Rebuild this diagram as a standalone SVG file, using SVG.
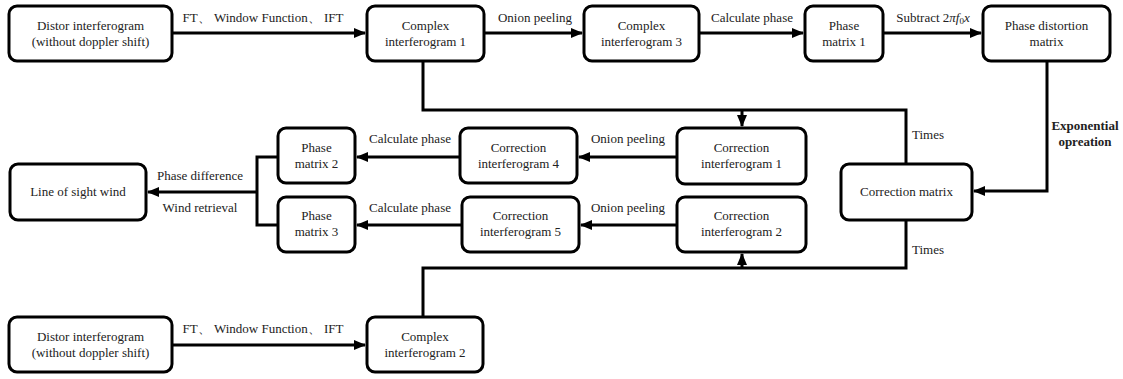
<svg xmlns="http://www.w3.org/2000/svg" width="1123" height="379" viewBox="0 0 1123 379" font-family="'Liberation Serif', 'DejaVu Serif', 'Times New Roman', serif">
<style>
.box{fill:#fff;stroke:#000;stroke-width:3}
.t{font-family:'Liberation Serif','DejaVu Serif',serif;font-size:13px;fill:#222;text-anchor:middle}
.b{font-weight:bold}
.c{fill:none;stroke:#000;stroke-width:3}
</style>
<defs>
<marker id="ah" markerUnits="userSpaceOnUse" markerWidth="12" markerHeight="10" refX="11" refY="5" orient="auto">
<path d="M0,0 L12,5 L0,10 Z" fill="#000"/>
</marker>
</defs>
<rect width="1123" height="379" fill="#fff"/>
<g id="connectors">
<path class="c" d="M172,33 H365" marker-end="url(#ah)"/>
<path class="c" d="M484,33 H582" marker-end="url(#ah)"/>
<path class="c" d="M699,33 H803" marker-end="url(#ah)"/>
<path class="c" d="M883,33 H981" marker-end="url(#ah)"/>
<path class="c" d="M1047,61 V191 H974" marker-end="url(#ah)"/>
<path class="c" d="M423,61 V110 H906 V164"/>
<path class="c" d="M742,110 V126" marker-end="url(#ah)"/>
<path class="c" d="M906,220 V268 H423 V317"/>
<path class="c" d="M742,268 V254" marker-end="url(#ah)"/>
<path class="c" d="M677,157 H579" marker-end="url(#ah)"/>
<path class="c" d="M677,225 H581" marker-end="url(#ah)"/>
<path class="c" d="M460,157 H357" marker-end="url(#ah)"/>
<path class="c" d="M462,225 H357" marker-end="url(#ah)"/>
<path class="c" d="M278,157 H257 V225 H278"/>
<path class="c" d="M257,192 H148" marker-end="url(#ah)"/>
<path class="c" d="M172,345 H365" marker-end="url(#ah)"/>
<text class="t" x="263" y="22">FT、 Window Function、 IFT</text>
<text class="t" x="535" y="22">Onion peeling</text>
<text class="t" x="752" y="22">Calculate phase</text>
<text class="t" x="933" y="22">Subtract 2<tspan font-style="italic">πf</tspan><tspan font-size="9" dy="2">0</tspan><tspan font-style="italic" dy="-2">x</tspan></text>
<text class="t b" x="1085" y="130">Exponential</text>
<text class="t b" x="1085" y="146">opreation</text>
<text class="t" x="912" y="139" style="text-anchor:start">Times</text>
<text class="t" x="912" y="254" style="text-anchor:start">Times</text>
<text class="t" x="628" y="143">Onion peeling</text>
<text class="t" x="628" y="212">Onion peeling</text>
<text class="t" x="410" y="143">Calculate phase</text>
<text class="t" x="410" y="212">Calculate phase</text>
<text class="t" x="200" y="180">Phase difference</text>
<text class="t" x="200" y="212">Wind retrieval</text>
<text class="t" x="263" y="333">FT、 Window Function、 IFT</text>
</g>
<g id="n1"><rect class="box" x="9" y="6" width="163" height="55" rx="8"/><text class="t" x="90.5" y="30">Distor interferogram</text><text class="t" x="90.5" y="46">(without doppler shift)</text></g>
<g id="n2"><rect class="box" x="367" y="6" width="117" height="55" rx="8"/><text class="t" x="425.5" y="30">Complex</text><text class="t" x="425.5" y="46">interferogram 1</text></g>
<g id="n3"><rect class="box" x="584" y="6" width="115" height="55" rx="8"/><text class="t" x="641.5" y="30">Complex</text><text class="t" x="641.5" y="46">interferogram 3</text></g>
<g id="n4"><rect class="box" x="805" y="6" width="78" height="55" rx="8"/><text class="t" x="844" y="30">Phase</text><text class="t" x="844" y="46">matrix 1</text></g>
<g id="n5"><rect class="box" x="983" y="6" width="127" height="55" rx="8"/><text class="t" x="1046.5" y="30">Phase distortion</text><text class="t" x="1046.5" y="46">matrix</text></g>
<g id="n6"><rect class="box" x="841" y="164" width="131" height="56" rx="8"/><text class="t" x="906.5" y="196">Correction matrix</text></g>
<g id="n7"><rect class="box" x="677" y="128" width="129" height="56" rx="8"/><text class="t" x="741.5" y="152">Correction</text><text class="t" x="741.5" y="168">interferogram 1</text></g>
<g id="n8"><rect class="box" x="677" y="197" width="129" height="55" rx="8"/><text class="t" x="741.5" y="220">Correction</text><text class="t" x="741.5" y="236">interferogram 2</text></g>
<g id="n9"><rect class="box" x="460" y="128" width="117" height="55" rx="8"/><text class="t" x="518.5" y="152">Correction</text><text class="t" x="518.5" y="168">interferogram 4</text></g>
<g id="n10"><rect class="box" x="462" y="197" width="117" height="55" rx="8"/><text class="t" x="520.5" y="220">Correction</text><text class="t" x="520.5" y="236">interferogram 5</text></g>
<g id="n11"><rect class="box" x="278" y="128" width="77" height="55" rx="8"/><text class="t" x="316.5" y="152">Phase</text><text class="t" x="316.5" y="168">matrix 2</text></g>
<g id="n12"><rect class="box" x="278" y="197" width="77" height="55" rx="8"/><text class="t" x="316.5" y="220">Phase</text><text class="t" x="316.5" y="236">matrix 3</text></g>
<g id="n13"><rect class="box" x="10" y="164" width="136" height="56" rx="8"/><text class="t" x="78" y="196">Line of sight wind</text></g>
<g id="n14"><rect class="box" x="9" y="317" width="163" height="55" rx="8"/><text class="t" x="90.5" y="341">Distor interferogram</text><text class="t" x="90.5" y="357">(without doppler shift)</text></g>
<g id="n15"><rect class="box" x="367" y="317" width="116" height="55" rx="8"/><text class="t" x="425" y="341">Complex</text><text class="t" x="425" y="357">interferogram 2</text></g>
</svg>
